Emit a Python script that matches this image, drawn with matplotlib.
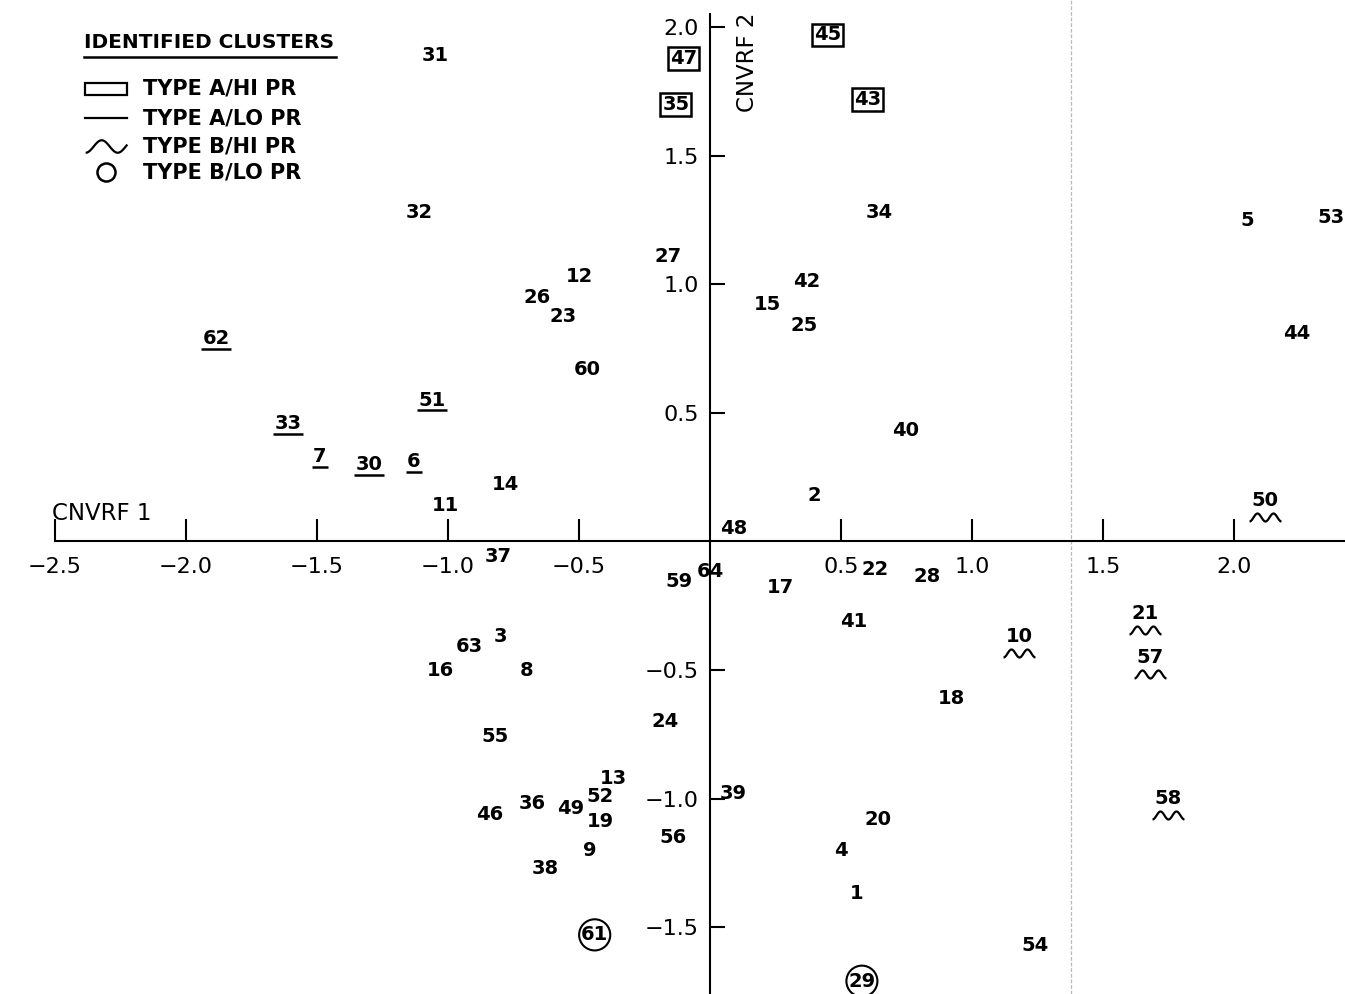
import numpy as np
import matplotlib.pyplot as plt
from matplotlib.patches import Rectangle
from matplotlib.transforms import offset_copy

# subject scores on the first two canonical variate functions
ids = list(range(1, 65))
cnvrf1 = [0.56, 0.40, -0.80, 0.50, 2.05, -1.13, -1.49, -0.70, -0.46, 1.18,
          -1.01, -0.50, -0.37, -0.78, 0.22, -1.03, 0.27, 0.92, -0.42, 0.64,
          1.66, 0.63, -0.56, -0.17, 0.36, -0.66, -0.16, 0.83, 0.58, -1.30,
          -1.05, -1.11, -1.61, 0.645, -0.13, -0.68, -0.81, -0.63, 0.09, 0.745,
          0.55, 0.37, 0.60, 2.24, 0.45, -0.84, -0.10, 0.09, -0.53, 2.12,
          -1.06, -0.42, 2.37, 1.24, -0.82, -0.14, 1.68, 1.75, -0.12, -0.47,
          -0.44, -1.885, -0.92, 0.0]
cnvrf2 = [-1.37, 0.18, -0.37, -1.20, 1.25, 0.31, 0.33, -0.50, -1.20, -0.37,
          0.14, 1.03, -0.92, 0.22, 0.92, -0.50, -0.18, -0.61, -1.09, -1.08,
          -0.28, -0.11, 0.875, -0.70, 0.84, 0.95, 1.11, -0.135, -1.71, 0.30,
          1.89, 1.28, 0.46, 1.28, 1.70, -1.02, -0.06, -1.27, -0.98, 0.43,
          -0.31, 1.01, 1.72, 0.81, 1.97, -1.06, 1.88, 0.05, -1.04, 0.16,
          0.55, -0.99, 1.26, -1.57, -0.76, -1.15, -0.45, -1.00, -0.155, 0.67,
          -1.53, 0.79, -0.41, -0.115]

# identified clusters
type_a_hi = [35, 43, 45, 47]
type_a_lo = [6, 7, 30, 33, 51, 62]
type_b_hi = [10, 21, 50, 57, 58]
type_b_lo = [29, 61]

x_ticks = [-2.5, -2.0, -1.5, -1.0, -0.5, 0.5, 1.0, 1.5, 2.0]
y_ticks = [-1.5, -1.0, -0.5, 0.5, 1.0, 1.5, 2.0]
fold_x = 1.38

W, H = 1345, 994
fig = plt.figure(figsize=(W / 100, H / 100), dpi=100)
ax = fig.add_axes([0, 0, 1, 1])
ax.set_xlim(-2.71, 2.424)
ax.set_ylim(-1.760, 2.106)

for side in ["top", "right"]:
    ax.spines[side].set_visible(False)
ax.spines["left"].set_position("zero")
ax.spines["bottom"].set_position("zero")
ax.spines["left"].set_bounds(-1.760, 2.05)
ax.spines["bottom"].set_bounds(-2.5, 2.424)
for side in ["left", "bottom"]:
    ax.spines[side].set_linewidth(1.5)

def fmt(v):
    return f"{v:.1f}".replace("-", "\u2212")

ax.set_xticks(x_ticks, [fmt(v) for v in x_ticks])
ax.set_yticks(y_ticks, [fmt(v) for v in y_ticks])
ax.tick_params(axis="x", direction="in", length=16, width=1.5, labelsize=16, pad=11)
ax.tick_params(axis="y", direction="in", length=11, width=1.5, labelsize=16, pad=8)

ax.axvline(fold_x, color="#b8b8b8", lw=0.9, ls=(0, (3, 1.5)), zorder=0)

# wave markers for type B / high PR
t = np.linspace(0, 4 * np.pi, 60)
wave = np.column_stack([t / (2 * np.pi) - 1, -0.25 * np.cos(t)])
t2 = np.linspace(0, 2.6 * np.pi, 50)
key_wave = np.column_stack([t2 / (1.3 * np.pi) - 1, -0.3 * np.cos(t2)])

under_tr = offset_copy(ax.transData, fig=fig, y=-7.5, units="points")
wave_tr = offset_copy(ax.transData, fig=fig, y=-12, units="points")

for i, x, y in zip(ids, cnvrf1, cnvrf2):
    label = str(i)
    kw = dict(ha="center", va="center", fontsize=14, fontweight="bold", clip_on=True)
    if i in type_a_hi:
        kw["bbox"] = dict(boxstyle="square,pad=0.1", fc="none", ec="black", lw=1.8)
    elif i in type_b_lo:
        kw["bbox"] = dict(boxstyle="circle,pad=0.1", fc="none", ec="black", lw=1.5)
    ax.text(x, y, label, **kw)
    if i in type_a_lo:
        ax.plot(x, y, marker="_", ms=11 * len(label), mew=1.8, color="black",
                transform=under_tr)
    elif i in type_b_hi:
        ax.plot(x, y, marker=wave, ms=23, mfc="none", mec="black", mew=1.6,
                transform=wave_tr)

# axis titles
ax.text(52 / W, 1 - 514 / H, "CNVRF 1", transform=ax.transAxes,
        ha="left", va="center", fontsize=16.5)
ax.text(748 / W, 1 - 62 / H, "CNVRF 2", transform=ax.transAxes, rotation=90,
        ha="center", va="center", fontsize=16.5)

# legend
def px(x, y):
    return x / W, 1 - y / H

ax.text(*px(84, 42), "IDENTIFIED CLUSTERS", transform=ax.transAxes,
        ha="left", va="center", fontsize=14.5, fontweight="bold")
ax.plot(*zip(px(84, 57), px(336, 57)), transform=ax.transAxes, color="black", lw=1.8)

rows = [89, 118, 146, 172]
names = ["TYPE A/HI PR", "TYPE A/LO PR", "TYPE B/HI PR", "TYPE B/LO PR"]
for ry, name in zip(rows, names):
    ax.text(*px(143, ry), name, transform=ax.transAxes, ha="left", va="center",
            fontsize=15, fontweight="bold")
x0, y0 = px(85, rows[0] + 6)
x1, y1 = px(127, rows[0] - 6)
ax.add_patch(Rectangle((x0, y0), x1 - x0, y1 - y0, transform=ax.transAxes,
                       fc="none", ec="black", lw=1.6))
ax.plot(*zip(px(85, rows[1]), px(127, rows[1])), transform=ax.transAxes,
        color="black", lw=1.6)
ax.plot(*px(106, rows[2]), marker=key_wave, ms=30, mfc="none", mec="black", mew=1.6,
        transform=ax.transAxes)
ax.plot(*px(106, rows[3]), marker="o", ms=13, mfc="none", mec="black", mew=1.8,
        transform=ax.transAxes)

fig.savefig("out.png", dpi=100)
